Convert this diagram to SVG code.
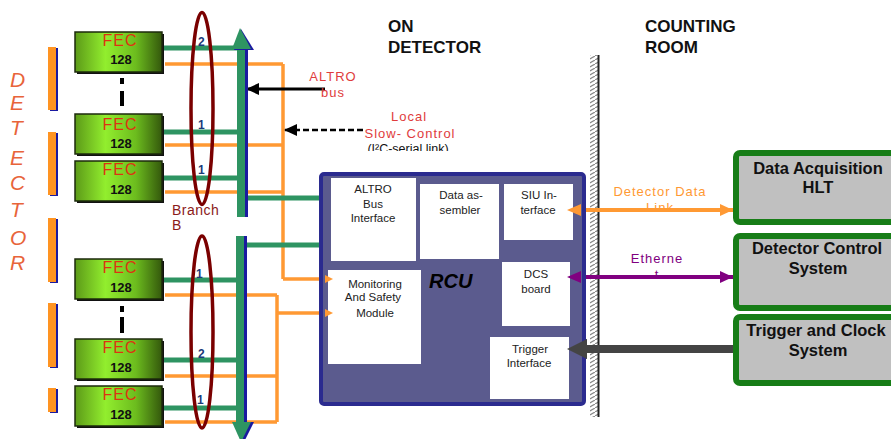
<svg xmlns="http://www.w3.org/2000/svg" width="891" height="439" viewBox="0 0 891 439">
<defs>
<style>
.sans{font-family:"Liberation Sans",Arial,sans-serif}
.fec{fill:url(#fecg);stroke:#1c2a0c;stroke-width:1.5}
.fecsh{fill:#111}
.fect{font-family:"Liberation Sans",Arial,sans-serif;font-size:16px;fill:#dd3311;text-anchor:middle;letter-spacing:1px}
.fecn{font-family:"Liberation Sans",Arial,sans-serif;font-size:13px;font-weight:bold;fill:#111;text-anchor:middle}
.det{font-family:"Liberation Sans",Arial,sans-serif;font-size:21px;font-style:italic;fill:#e8643a}
.obar{fill:#ff9422}
.bbar{fill:#1a1aa0}
.gl{stroke:#2e9462;stroke-width:5;fill:none}
.ol{stroke:#ff9933;stroke-width:3.5;fill:none}
.num{font-family:"Liberation Sans",Arial,sans-serif;font-size:12px;font-weight:bold;fill:#1a3a7a}
.ell{fill:none;stroke:#7a0000;stroke-width:3.5}
.lab{font-family:"Liberation Sans",Arial,sans-serif;font-size:13px;text-anchor:middle;letter-spacing:1px}
.head{font-family:"Liberation Sans",Arial,sans-serif;font-size:17px;font-weight:bold;fill:#111}
.wb{fill:#fff}
.bt{font-family:"Liberation Sans",Arial,sans-serif;font-size:11.5px;fill:#222;text-anchor:middle}
.rb{fill:#c0c0c0;stroke:#177d17;stroke-width:6}
.rt{font-family:"Liberation Sans",Arial,sans-serif;font-size:16.5px;font-weight:bold;fill:#111;text-anchor:middle}
</style>
<linearGradient id="fecg" x1="0" y1="0" x2="1" y2="0">
<stop offset="0" stop-color="#5c9a18"/>
<stop offset="0.35" stop-color="#92ee2e"/>
<stop offset="0.7" stop-color="#6cbc1e"/>
<stop offset="1" stop-color="#34580c"/>
</linearGradient>
<pattern id="hatch" width="7" height="4" patternUnits="userSpaceOnUse">
<rect width="7" height="4" fill="#fff"/>
<path d="M0,4 L7,0" stroke="#888" stroke-width="1.2"/>
</pattern>
<marker id="ablk" markerUnits="userSpaceOnUse" markerWidth="14" markerHeight="14" refX="13" refY="7" orient="auto-start-reverse" viewBox="0 0 14 14">
<path d="M0,1 L13,7 L0,13 Z" fill="#000"/>
</marker>
<marker id="aor" markerUnits="userSpaceOnUse" markerWidth="10" markerHeight="10" refX="9" refY="5" orient="auto-start-reverse" viewBox="0 0 10 10">
<path d="M0,1 L9,5 L0,9 Z" fill="#ff9933"/>
</marker>
<marker id="aorb" markerUnits="userSpaceOnUse" markerWidth="14" markerHeight="14" refX="13" refY="7" orient="auto-start-reverse" viewBox="0 0 14 14">
<path d="M0,1 L13,7 L0,13 Z" fill="#ff9933"/>
</marker>
<marker id="apu" markerUnits="userSpaceOnUse" markerWidth="14" markerHeight="14" refX="13" refY="7" orient="auto-start-reverse" viewBox="0 0 14 14">
<path d="M0,1 L13,7 L0,13 Z" fill="#800080"/>
</marker>
</defs>
<rect width="891" height="439" fill="#fff"/>

<!-- DETECTOR letters -->
<g id="detector-label">
<text class="det" x="10" y="87">D</text>
<text class="det" x="10" y="110">E</text>
<text class="det" x="10" y="135">T</text>
<text class="det" x="10" y="165">E</text>
<text class="det" x="10" y="190">C</text>
<text class="det" x="10" y="217">T</text>
<text class="det" x="10" y="245">O</text>
<text class="det" x="10" y="270">R</text>
</g>

<!-- detector segments -->
<g id="detector-segments">
<rect class="bbar" x="50" y="48" width="8" height="63"/><rect class="obar" x="48" y="47" width="8" height="63"/>
<rect class="bbar" x="50" y="133" width="8" height="63"/><rect class="obar" x="48" y="132" width="8" height="63"/>
<rect class="bbar" x="50" y="219" width="8" height="64"/><rect class="obar" x="48" y="218" width="8" height="64"/>
<rect class="bbar" x="50" y="304" width="8" height="64"/><rect class="obar" x="48" y="303" width="8" height="64"/>
<rect class="bbar" x="50" y="389" width="8" height="24"/><rect class="obar" x="48" y="388" width="8" height="24"/>
</g>

<!-- wall -->
<g id="wall">
<rect x="590" y="55" width="8" height="362" fill="url(#hatch)"/>
<rect x="597.5" y="55" width="2" height="362" fill="#222"/>
</g>

<!-- headings -->
<g id="headings">
<text class="head" x="388" y="32">ON</text>
<text class="head" x="388" y="53">DETECTOR</text>
<text class="head" x="645" y="32">COUNTING</text>
<text class="head" x="645" y="53">ROOM</text>
</g>

<!-- connectors -->
<g id="connectors">
<!-- orange lines upper -->
<path class="ol" d="M165,64 H283 M165,145 H283 M165,192 H283 M283,64 V279"/>
<path class="ol" d="M283,279 H333" marker-end="url(#aor)"/>
<!-- orange lines lower -->
<path class="ol" d="M165,295 H277 M165,376 H277 M165,422 H277 M277,295 V422"/>
<path class="ol" d="M277,313 H333" marker-end="url(#aor)"/>
<!-- green lines to bus -->
<path class="gl" d="M162,48 H241 M162,132 H241 M162,178 H241 M162,280 H241 M162,360 H241 M162,408 H241"/>
<!-- green bus to RCU -->
<path class="gl" d="M245,198 H321 M245,245 H321"/>
<!-- ALTRO bus arrow -->
<path d="M325,89 H246" stroke="#000" stroke-width="3" marker-end="url(#ablk)"/>
<!-- slow control dashed arrow -->
<path d="M363,130 H284" stroke="#000" stroke-width="2.5" stroke-dasharray="6,3" marker-end="url(#ablk)"/>
<!-- counting room links -->
<path d="M567,210 H733" stroke="#ff9933" stroke-width="4" marker-start="url(#aorb)" marker-end="url(#aorb)"/>
<path d="M567,277 H733" stroke="#800080" stroke-width="4" marker-start="url(#apu)" marker-end="url(#apu)"/>
<path d="M733,349 H585" stroke="#444" stroke-width="8"/>
<path d="M567,349 L587,339 L587,359 Z" fill="#444"/>
</g>

<!-- buses -->
<g id="bus-upper">
<rect x="245" y="42" width="3" height="175" fill="#1a1aa0"/>
<rect x="237" y="42" width="8" height="175" fill="#2e9462"/>
<path d="M241,29 L254,50 L234,50 Z" fill="#1a1aa0"/>
<path d="M240,28 L251,49 L232,49 Z" fill="#2e9462"/>
</g>
<g id="bus-lower">
<rect x="244" y="236" width="3" height="188" fill="#1a1aa0"/>
<rect x="236" y="236" width="8" height="188" fill="#2e9462"/>
<path d="M234,422 L254,422 L244,442 Z" fill="#1a1aa0"/>
<path d="M232,422 L251,422 L241,442 Z" fill="#2e9462"/>
</g>

<!-- branch ellipses -->
<g id="branch-upper">
<ellipse class="ell" cx="202" cy="108.5" rx="11" ry="96"/>
</g>
<g id="branch-lower">
<ellipse class="ell" cx="202" cy="332" rx="11" ry="96"/>
</g>
<g id="branch-label">
<text class="sans" x="172" y="215" font-size="14" fill="#8b1a1a" letter-spacing="0.5">Branch</text>
<text class="sans" x="172" y="230" font-size="14" fill="#8b1a1a">B</text>
</g>
<g id="branch-numbers">
<text class="num" x="198" y="46">2</text>
<text class="num" x="198" y="129">1</text>
<text class="num" x="198" y="174">1</text>
<text class="num" x="196" y="278">1</text>
<text class="num" x="198" y="358">2</text>
<text class="num" x="197" y="404">1</text>
</g>

<!-- FEC boxes -->
<g id="fec1"><rect class="fecsh" x="77" y="34" width="87" height="40"/><rect class="fec" x="75" y="32" width="87" height="40"/><text class="fect" x="120" y="46">FEC</text><text class="fecn" x="121" y="64">128</text></g>
<g id="fec2"><rect class="fecsh" x="77" y="116" width="87" height="40"/><rect class="fec" x="75" y="114" width="87" height="40"/><text class="fect" x="120" y="130">FEC</text><text class="fecn" x="121" y="148">128</text></g>
<g id="fec3"><rect class="fecsh" x="77" y="163" width="87" height="40"/><rect class="fec" x="75" y="161" width="87" height="40"/><text class="fect" x="120" y="175">FEC</text><text class="fecn" x="121" y="194">128</text></g>
<g id="fec4"><rect class="fecsh" x="77" y="261" width="87" height="40"/><rect class="fec" x="75" y="259" width="87" height="40"/><text class="fect" x="120" y="273">FEC</text><text class="fecn" x="121" y="292">128</text></g>
<g id="fec5"><rect class="fecsh" x="77" y="341" width="87" height="40"/><rect class="fec" x="75" y="339" width="87" height="40"/><text class="fect" x="120" y="353">FEC</text><text class="fecn" x="121" y="372">128</text></g>
<g id="fec6"><rect class="fecsh" x="77" y="388" width="87" height="40"/><rect class="fec" x="75" y="386" width="87" height="40"/><text class="fect" x="120" y="400">FEC</text><text class="fecn" x="121" y="419">128</text></g>

<g id="ellipsis-dots">
<rect x="120" y="78" width="4" height="6" fill="#000"/>
<rect x="120" y="91" width="4" height="15" fill="#000"/>
<rect x="120" y="306" width="4" height="6" fill="#000"/>
<rect x="120" y="317" width="4" height="16" fill="#000"/>
</g>

<!-- labels -->
<g id="labels">
<text class="lab" x="333" y="81" fill="#e03c3c">ALTRO</text>
<text class="lab" x="333" y="97" fill="#e03c3c">bus</text>
<text class="lab" x="409" y="121" fill="#e03c3c">Local</text>
<text class="lab" x="410" y="138" fill="#e03c3c">Slow- Control</text>
<clipPath id="clipi2c"><rect x="340" y="138" width="140" height="13"/></clipPath>
<text class="sans" x="408" y="153" font-size="12.5" text-anchor="middle" fill="#111" clip-path="url(#clipi2c)">(I²C-serial link)</text>
<text class="lab" x="660" y="196" fill="#ff9933" letter-spacing="0.6">Detector Data</text>
<text class="lab" x="660" y="212" fill="#ff9933">Link</text>
<text class="lab" x="657" y="263" fill="#800080" letter-spacing="0.6">Etherne</text>
<text class="lab" x="657" y="279" fill="#800080">t</text>
</g>
<!-- re-draw counting room arrows over half-hidden labels -->
<g id="connectors-overlay">
<path d="M567,210 H733" stroke="#ff9933" stroke-width="4"/>
<path d="M567,277 H733" stroke="#800080" stroke-width="4"/>
</g>

<!-- RCU -->
<g id="rcu">
<rect x="321" y="174" width="263" height="230" rx="3" fill="#5b5b8e" stroke="#2b2b8f" stroke-width="4"/>
<text x="429" y="288" font-family="Liberation Sans, Arial, sans-serif" font-size="20" font-weight="bold" font-style="italic" fill="#000">RCU</text>
</g>
<g id="altro-bus-interface">
<rect class="wb" x="331" y="178" width="85" height="83"/>
<text class="bt" x="373" y="193">ALTRO</text>
<text class="bt" x="373" y="208">Bus</text>
<text class="bt" x="373" y="222">Interface</text>
</g>
<g id="data-assembler">
<rect class="wb" x="420" y="184" width="79" height="75"/>
<text class="bt" x="461" y="199">Data as-</text>
<text class="bt" x="460" y="214">sembler</text>
</g>
<g id="siu-interface">
<rect class="wb" x="504" y="184" width="69" height="56"/>
<text class="bt" x="539" y="199">SIU In-</text>
<text class="bt" x="538" y="214">terface</text>
</g>
<g id="monitoring-module">
<rect class="wb" x="328" y="270" width="93" height="94"/>
<text class="bt" x="375" y="288">Monitoring</text>
<text class="bt" x="373" y="301">And Safety</text>
<text class="bt" x="375" y="317">Module</text>
</g>
<g id="dcs-board">
<rect class="wb" x="502" y="262" width="68" height="64"/>
<text class="bt" x="536" y="278">DCS</text>
<text class="bt" x="536" y="293">board</text>
</g>
<g id="trigger-interface">
<rect class="wb" x="490" y="337" width="79" height="62"/>
<text class="bt" x="530" y="353">Trigger</text>
<text class="bt" x="529" y="367">Interface</text>
</g>
<!-- arrowheads inside RCU boxes -->
<g id="rcu-arrowheads">
<path d="M567,210 L581,204 L581,216 Z" fill="#ff9933"/>
<path d="M567,277 L581,271 L581,283 Z" fill="#800080"/>
<path d="M567,349 L587,339 L587,359 Z" fill="#444"/>
<path d="M333,279 L325,275 L325,283 Z" fill="#ff9933"/>
<path d="M333,313 L325,309 L325,317 Z" fill="#ff9933"/>
</g>

<!-- counting room systems -->
<g id="daq-hlt">
<rect class="rb" x="736" y="153" width="170" height="69" rx="4"/>
<text class="rt" x="818" y="174">Data Acquisition</text>
<text class="rt" x="818" y="193">HLT</text>
</g>
<g id="dcs">
<rect class="rb" x="736" y="236" width="170" height="72" rx="4"/>
<text class="rt" x="817" y="254">Detector Control</text>
<text class="rt" x="818" y="274">System</text>
</g>
<g id="trigger-clock">
<rect class="rb" x="736" y="317" width="170" height="66" rx="4"/>
<text class="rt" x="816" y="336">Trigger and Clock</text>
<text class="rt" x="818" y="356">System</text>
</g>
</svg>
